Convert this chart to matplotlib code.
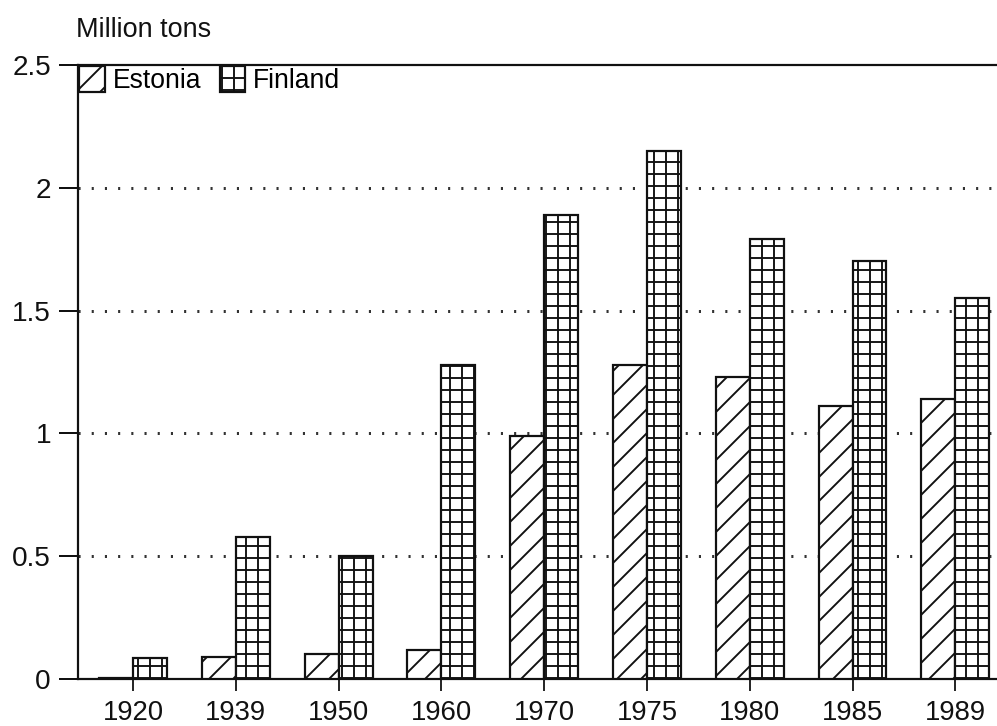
import matplotlib
matplotlib.use('Agg')
from matplotlib import pyplot as plt
import numpy as np

years = ['1920', '1939', '1950', '1960', '1970', '1975', '1980', '1985', '1989']
estonia = [0.005, 0.09, 0.10, 0.12, 0.99, 1.28, 1.23, 1.11, 1.14]
finland = [0.085, 0.58, 0.50, 1.28, 1.89, 2.15, 1.79, 1.70, 1.55]
yticks = [0, 0.5, 1, 1.5, 2, 2.5]
ylabels = ['0', '0.5', '1', '1.5', '2', '2.5']

# dpi 72 so that 1 pt == 1 px and hatch spacing comes out near the scan
DPI = 72
plt.rcParams['font.family'] = ['Liberation Sans', 'DejaVu Sans']
plt.rcParams['hatch.linewidth'] = 1.9
plt.rcParams['hatch.color'] = '#111111'

fig = plt.figure(figsize=(997 / DPI, 726 / DPI), dpi=DPI)
ax = fig.add_axes([78 / 997, 1 - 679 / 726, 1 - 78 / 997, (679 - 65) / 726])

x = np.arange(len(years))
w = 0.33
ax.bar(x - w / 2, estonia, w, color='white', edgecolor='#111111', linewidth=2.2,
       hatch='/', label='Estonia', zorder=3)
ax.bar(x + w / 2, finland, w, color='white', edgecolor='#111111', linewidth=2.2,
       hatch='+', label='Finland', zorder=3)

ax.set_xlim(-0.535, 8.405)
ax.set_ylim(0, 2.5)
ax.set_yticks(yticks)
ax.set_yticklabels(ylabels)
ax.set_xticks(x)
ax.set_xticklabels(years)

for v in yticks[1:-1]:
    ax.axhline(v, color='#333333', linewidth=3, linestyle=(0, (0.7, 3.7)), zorder=1)

for s in ['left', 'top', 'bottom']:
    ax.spines[s].set_linewidth(2.2)
    ax.spines[s].set_color('#111111')
ax.spines['right'].set_visible(False)

ax.tick_params(axis='y', direction='out', length=19, width=2, pad=8,
               labelsize=28, colors='#111111')
ax.tick_params(axis='x', direction='out', length=12, width=1.8, pad=9,
               labelsize=27.5, colors='#111111')

fig.text(76 / 997, 1 - 37 / 726, 'Million tons', fontsize=27, color='#111111',
         va='baseline')

ax.legend(loc='upper left', ncol=2, frameon=False, fontsize=26.5,
          handlelength=0.95, handleheight=1.1, handletextpad=0.3,
          columnspacing=0.7, borderpad=0, borderaxespad=0.05,
          bbox_to_anchor=(0.0, 1.0))

fig.savefig('out.png', dpi=DPI)
